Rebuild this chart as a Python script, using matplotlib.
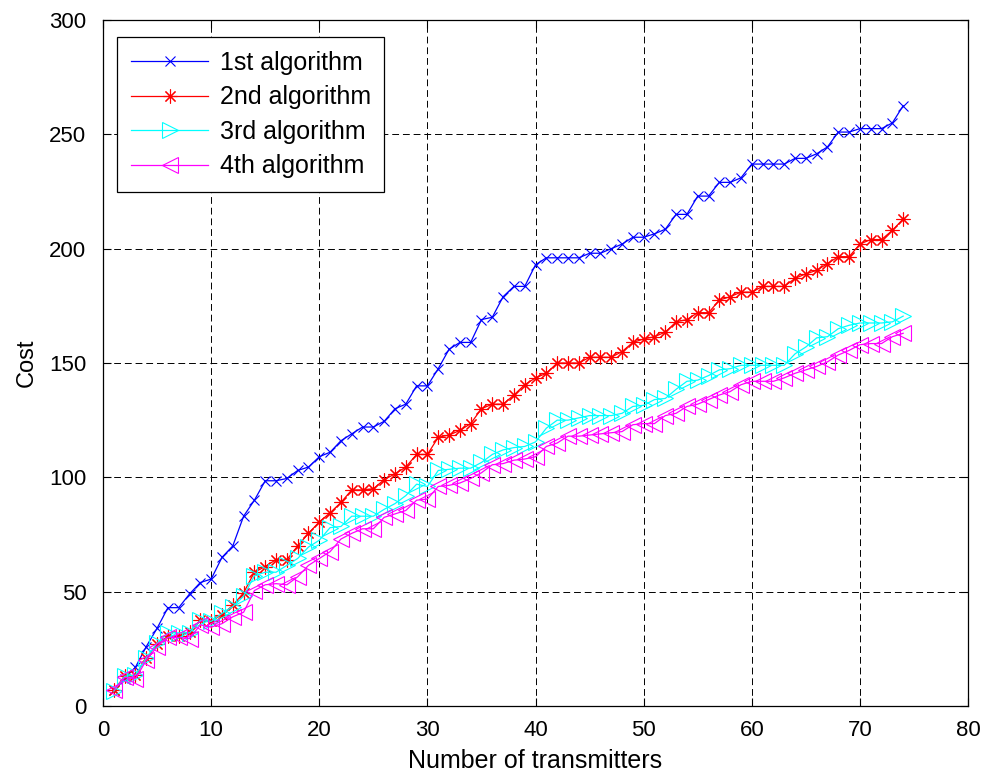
import numpy as np
import matplotlib
matplotlib.use("Agg")
import matplotlib.pyplot as plt

plt.rcParams['font.family'] = ['Liberation Sans', 'DejaVu Sans']

# number of transmitters
n_tx = np.arange(1, 75)

cost_alg1 = [7, 12, 17, 26, 34, 43, 43, 49, 54, 55.5,
             65, 70, 83, 90, 98.5, 98.5, 99.5, 103, 104.5, 109,
             111, 116, 119, 122, 122, 124.5, 130, 132, 140, 140,
             147.5, 156, 159, 159, 169, 170, 179, 183.5, 183.5, 193,
             196, 196, 196, 196, 198, 198, 200, 202, 205, 205,
             206.5, 208.5, 215, 215, 223, 223, 229, 229, 231, 237,
             237, 237, 237, 239.5, 239.5, 241.5, 244.5, 251, 251, 252.5,
             252.5, 252.5, 255, 262.5]

cost_alg2 = [7, 13, 13.5, 21, 27, 30.5, 30.5, 32.5, 37.5, 37,
             40, 44, 49.5, 58.5, 61, 64, 64, 70, 75.5, 80.5,
             84.5, 89, 94.5, 94.5, 95, 99, 101.5, 104.5, 110, 110,
             117.5, 118.5, 120.5, 123.5, 130, 132, 132, 136, 140.5, 143.5,
             145.5, 150, 150, 150, 152.5, 152.5, 152.5, 155, 159, 160.5,
             161.5, 163.5, 168, 169, 172, 172, 177.5, 179, 181, 181,
             183.5, 183.5, 183.5, 187, 189, 190.5, 193.5, 196.5, 196.5, 202,
             204, 204, 208, 213]

cost_alg3 = [6.5, 13, 13.5, 21, 27.5, 32, 32, 32, 37.5, 37,
             40.5, 43.5, 48, 57, 58.5, 58.5, 61.5, 64.5, 69.5, 72.5,
             78, 78.5, 83, 83, 83, 86, 88.5, 92, 97, 96,
             103, 103.5, 104, 104, 106.5, 110, 112, 113, 113.5, 115.5,
             121.5, 125, 125, 126, 127, 127, 127, 128, 131, 131.5,
             134, 134.5, 138.5, 142, 142.5, 144.5, 147, 147.5, 149, 149,
             149, 149, 149, 154, 157, 161, 161.5, 165, 166.5, 167.5,
             167.5, 167.5, 168, 170.5]

cost_alg4 = [7, 12.5, 12, 20, 26, 30, 30, 29.5, 35.5, 34.5,
             36, 39, 41, 50.5, 53, 53.5, 53, 56.5, 61.5, 64.5,
             67.5, 73, 75.5, 77.5, 77.5, 82.5, 84, 85.5, 90, 90.5,
             96, 96.5, 97.5, 99.5, 102, 105.5, 106, 107.5, 108, 109,
             113.5, 115, 118, 118, 118.5, 119, 119.5, 120, 123, 123.5,
             123.5, 127, 128, 131, 132, 134, 136, 137.5, 140.5, 142,
             142, 142, 143.5, 145.5, 147, 148.5, 150.5, 153.5, 155.5, 158,
             158.5, 158.5, 161.5, 163]

fig = plt.figure(figsize=(9.88, 7.73), dpi=100)
ax = fig.add_axes([0.1043, 0.0867, 0.8755, 0.8874])

ax.plot(n_tx, cost_alg1, color='#0000ff', lw=0.9, marker='x', ms=7,
        mew=0.8, label='1st algorithm')
ax.plot(n_tx, cost_alg2, color='#ff0000', lw=0.9, marker=(8, 2, 0), ms=10,
        mew=0.8, label='2nd algorithm')
ax.plot(n_tx, cost_alg3, color='#00ffff', lw=0.9, marker='>', ms=11,
        mfc='none', mew=0.8, label='3rd algorithm')
ax.plot(n_tx, cost_alg4, color='#ff00ff', lw=0.9, marker='<', ms=11,
        mfc='none', mew=0.8, label='4th algorithm')

ax.set_xlim(0, 80)
ax.set_ylim(0, 300)
ax.set_xticks(np.arange(0, 81, 10))
ax.set_yticks(np.arange(0, 301, 50))
ax.grid(True, color='k', linestyle=(0, (7, 4)), lw=0.7)
ax.tick_params(direction='in', length=6, width=0.8, top=True, right=True,
               labelsize=16)
ax.tick_params(axis='y', pad=12)
ax.tick_params(axis='x', pad=10)
for s in ax.spines.values():
    s.set_linewidth(0.9)

ax.set_xlabel('Number of transmitters', fontsize=18, labelpad=6)
ax.set_ylabel('Cost', fontsize=17, labelpad=8)

leg = ax.legend(loc='upper left', fontsize=18, fancybox=False,
                edgecolor='k', framealpha=1, handlelength=3.1,
                handletextpad=0.45, borderpad=0.55, labelspacing=0.42,
                borderaxespad=0, bbox_to_anchor=(0.0162, 0.975))
leg.get_frame().set_linewidth(0.9)

fig.savefig('out.png', dpi=100)
